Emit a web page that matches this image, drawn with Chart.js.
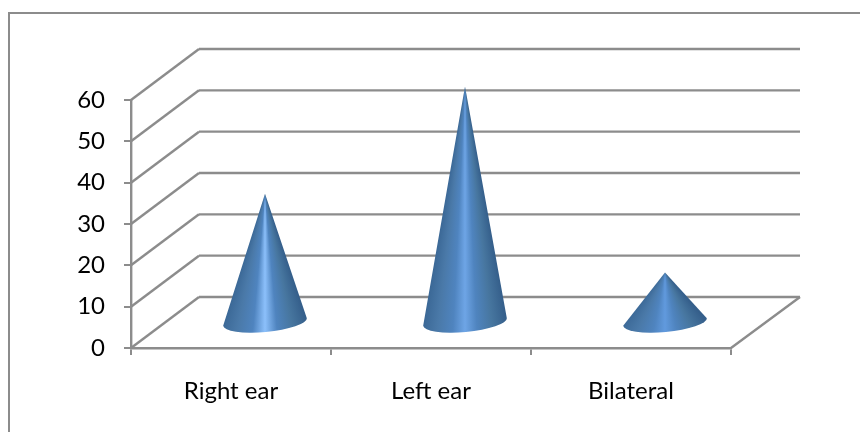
<!DOCTYPE html>
<html>
<head>
<meta charset="utf-8">
<style>
  html, body { margin: 0; padding: 0; background: #fff; }
  canvas { display: block; }
</style>
<script src="https://cdn.jsdelivr.net/npm/chart.js@4"></script>
</head>
<body>
<canvas id="chart" width="860" height="432"></canvas>
<script>
const categories = ['Right ear', 'Left ear', 'Bilateral'];
const values = [31, 57, 12];
const yTicks = [0, 10, 20, 30, 40, 50, 60];

const GRID = '#8c8c8c';
const FONT = { family: 'Lato', size: 24 };
// how far the back wall sits from the front of the floor
const DEPTH_X = 68;
const DEPTH_Y = -51;
const HIGHLIGHTS = ['#8cc0fb', '#6ea5e6', '#619ade'];

function line(ctx, x1, y1, x2, y2) {
    ctx.beginPath();
    ctx.moveTo(x1, y1);
    ctx.lineTo(x2, y2);
    ctx.stroke();
}

function drawCone(ctx, x, tipY, baseY, rx, highlight) {
    const ry = 10;
    const tilt = -0.09;
    const rightY = baseY + Math.sin(tilt) * rx;

    // shading fans out from the tip, so it narrows towards the point
    const half = Math.atan2(rx, baseY - tipY);
    const start = Math.PI / 2 - half;
    const sweep = (2 * half) / (2 * Math.PI);
    const grad = ctx.createConicGradient(start, x, tipY);
    const stops = [
        [0, '#355f8b'], [0.18, '#47769f'], [0.36, '#4f84bf'], [0.5, highlight],
        [0.64, '#4f84bf'], [0.82, '#4a79a8'], [1, '#3a6795']
    ];
    stops.forEach(([p, c]) => grad.addColorStop(p * sweep, c));
    grad.addColorStop(Math.min(sweep + 0.01, 0.99), '#3a6795');
    grad.addColorStop(1, '#355f8b');

    ctx.save();
    ctx.fillStyle = grad;
    ctx.beginPath();
    ctx.moveTo(x, tipY);
    ctx.lineTo(x + rx * Math.cos(tilt), rightY);
    ctx.ellipse(x, baseY, rx, ry, tilt, 0, Math.PI);
    ctx.lineTo(x, tipY);
    ctx.closePath();
    ctx.fill();
    ctx.restore();
}

const wallAndCones = {
    id: 'wallAndCones',
    beforeDraw(chart) {
        const { ctx, scales: { x, y } } = chart;
        ctx.save();

        // frame: only the left and top edges show in the crop
        ctx.strokeStyle = GRID;
        ctx.lineWidth = 2;
        line(ctx, 9, 13, 9, 432);
        line(ctx, 8, 13, 860, 13);

        // gridlines on the side and back walls
        ctx.lineWidth = 2.4;
        yTicks.forEach(t => {
            const py = y.getPixelForValue(t);
            line(ctx, x.left, py, x.left + DEPTH_X, py + DEPTH_Y);
            line(ctx, x.left + DEPTH_X, py + DEPTH_Y, x.right + DEPTH_X + 1, py + DEPTH_Y);
        });
        const floorY = y.getPixelForValue(0);
        line(ctx, x.right, floorY, x.right + DEPTH_X + 1, floorY + DEPTH_Y);
        ctx.restore();
    },
    beforeDatasetDraw(chart, args) {
        const { ctx, scales: { y } } = chart;
        const meta = chart.getDatasetMeta(args.index);
        meta.data.forEach((bar, i) => {
            // cones stand halfway back on the floor
            const shiftY = -26;
            const tipY = y.getPixelForValue(values[i]) + shiftY;
            const baseY = y.getPixelForValue(0) + shiftY;
            drawCone(ctx, bar.x + DEPTH_X / 2, tipY, baseY, bar.width / 2, HIGHLIGHTS[i]);
        });
        return false;
    }
};

new Chart(document.getElementById('chart'), {
    type: 'bar',
    data: {
        labels: categories,
        datasets: [{ data: values, backgroundColor: '#4f81bd', barPercentage: 1, categoryPercentage: 0.42 }]
    },
    plugins: [wallAndCones],
    options: {
        responsive: false,
        animation: false,
        devicePixelRatio: 1,
        layout: { padding: { left: 0, top: 100, right: 129, bottom: 0 } },
        plugins: { legend: { display: false }, tooltip: { enabled: false } },
        scales: {
            x: {
                afterFit: s => { s.height = 84; },
                grid: { drawOnChartArea: false, tickLength: 7, color: GRID, lineWidth: 2 },
                border: { color: GRID, width: 2.4 },
                ticks: { color: '#000', font: FONT, padding: 22, maxRotation: 0 }
            },
            y: {
                min: 0,
                max: 60,
                afterFit: s => { s.width = 131; },
                grid: { drawOnChartArea: false, tickLength: 7, color: GRID, lineWidth: 2 },
                border: { color: GRID, width: 2.4 },
                ticks: { color: '#000', font: FONT, padding: 19, stepSize: 10 }
            }
        }
    }
});
</script>
</body>
</html>
